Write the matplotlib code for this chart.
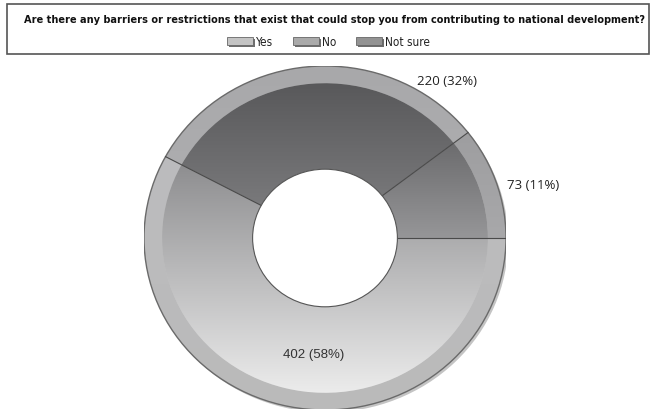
import numpy as np
import matplotlib
matplotlib.use("Agg")
import matplotlib.pyplot as plt
from matplotlib.patches import Rectangle, Ellipse

categories = ["Yes", "No", "Not sure"]
values = [402, 220, 73]
percents = [58, 32, 11]

# per-slice gradient (top colour, bottom colour) for body and rim
body_top = ["#8e8e90", "#58585a", "#6c6c6e"]
body_bot = ["#ececec", "#828284", "#969698"]
rim_top = ["#bcbcbe", "#a8a8aa", "#9e9ea0"]
rim_bot = ["#bababa", "#b0b0b2", "#a8a8aa"]
legend_colors = ["#c4c4c4", "#aaaaaa", "#939393"]

W, H = 651, 410
fig = plt.figure(figsize=(W / 100, H / 100), dpi=100)
fig.patch.set_facecolor("white")

# title box
bg = fig.add_axes([0, 0, 1, 1])
bg.set_xlim(0, W)
bg.set_ylim(H, 0)
bg.axis("off")
bg.add_patch(Rectangle((7, 5), 642, 50, fill=False, edgecolor="#555555", lw=1.2))
title = bg.text(335, 20, "Are there any barriers or restrictions that exist that could stop you from contributing to national development?",
                ha="center", va="center", fontsize=9.0, fontweight="bold", fontstretch="condensed",
                family=["DejaVu Sans"], color="#111111")
# shrink the title to the width it takes in the reference box
r = fig.canvas.get_renderer()
tw = title.get_window_extent(r).width
title.set_fontsize(9.0 * 624 / tw)

lx = [227, 293, 356]
for x0, lab, c in zip(lx, categories, legend_colors):
    bg.add_patch(Rectangle((x0 + 2, 40), 26, 8, facecolor="#6e6e6e", edgecolor="none"))
    bg.add_patch(Rectangle((x0, 38), 26, 8, facecolor=c, edgecolor="#666666", lw=0.6))
    bg.text(x0 + 29, 42, lab, ha="left", va="center", fontsize=8.5, fontstretch="condensed",
            family=["DejaVu Sans"], color="#222222")

# donut
cx, cy, rx, ry = 325, 239, 181, 172
ax = fig.add_axes([(cx - rx) / W, (H - cy - ry) / H, 2 * rx / W, 2 * ry / H])
ax.axis("off")

rim_w = 0.1
hole = 0.4
rim_wedges, _ = ax.pie(values, radius=1.0, startangle=0, counterclock=False,
                       wedgeprops=dict(width=rim_w, edgecolor="none"))
body_wedges, _ = ax.pie(values, radius=1.0 - rim_w, startangle=0, counterclock=False,
                        wedgeprops=dict(width=1.0 - rim_w - hole, edgecolor="none"))
ax.set_aspect("auto")

# soft shadow and white hole
ax.add_patch(Ellipse((0.012, -0.014), 2.0, 2.0, facecolor="#c4c4c4", edgecolor="none", zorder=0))
ax.add_patch(Ellipse((0, 0), 2 * hole, 2 * hole, facecolor="white", edgecolor="#555555", lw=0.8, zorder=4))


def fill_gradient(wedge, top, bot, z):
    verts = wedge.get_path().vertices
    ext = wedge.get_patch_transform().transform(verts)
    y0, y1 = ext[:, 1].min(), ext[:, 1].max()
    c0 = np.array(matplotlib.colors.to_rgb(bot))
    c1 = np.array(matplotlib.colors.to_rgb(top))
    t = np.linspace(0, 1, 256)[:, None]
    img = (c0 + (c1 - c0) * t)[:, None, :]
    im = ax.imshow(img, extent=[-1, 1, y0, y1], origin="lower", aspect="auto", zorder=z,
                   interpolation="bilinear")
    im.set_clip_path(wedge)
    wedge.set_facecolor("none")


for i, w in enumerate(rim_wedges):
    fill_gradient(w, rim_top[i], rim_bot[i], 1)
for i, w in enumerate(body_wedges):
    fill_gradient(w, body_top[i], body_bot[i], 2)

# outer outline and slice separators
ax.add_patch(Ellipse((0, 0), 2.0, 2.0, facecolor="none", edgecolor="#6a6a6a", lw=1.0, zorder=3))
bounds = np.cumsum([0] + values) / sum(values)
for b in bounds[:-1]:
    a = np.deg2rad(-360 * b)
    ax.plot([hole * np.cos(a), np.cos(a)], [hole * np.sin(a), np.sin(a)],
            color="#4a4a4a", lw=0.8, zorder=3)

ax.set_xlim(-1, 1)
ax.set_ylim(-1, 1)

# labels
lab = ["%d (%d%%)" % (v, p) for v, p in zip(values, percents)]
ax.text(-0.065, -0.675, lab[0], ha="center", va="center", fontsize=9.5,
        family=["Liberation Sans", "DejaVu Sans"], color="#333333", zorder=5)
ax.text(0.675, 0.913, lab[1], ha="center", va="center", fontsize=9.5,
        family=["Open Sans", "DejaVu Sans"], color="#222222", zorder=5, clip_on=False)
ax.text(1.15, 0.31, lab[2], ha="center", va="center", fontsize=9.5,
        family=["Open Sans", "DejaVu Sans"], color="#222222", zorder=5, clip_on=False)

fig.savefig("out.png", dpi=100, facecolor="white")
